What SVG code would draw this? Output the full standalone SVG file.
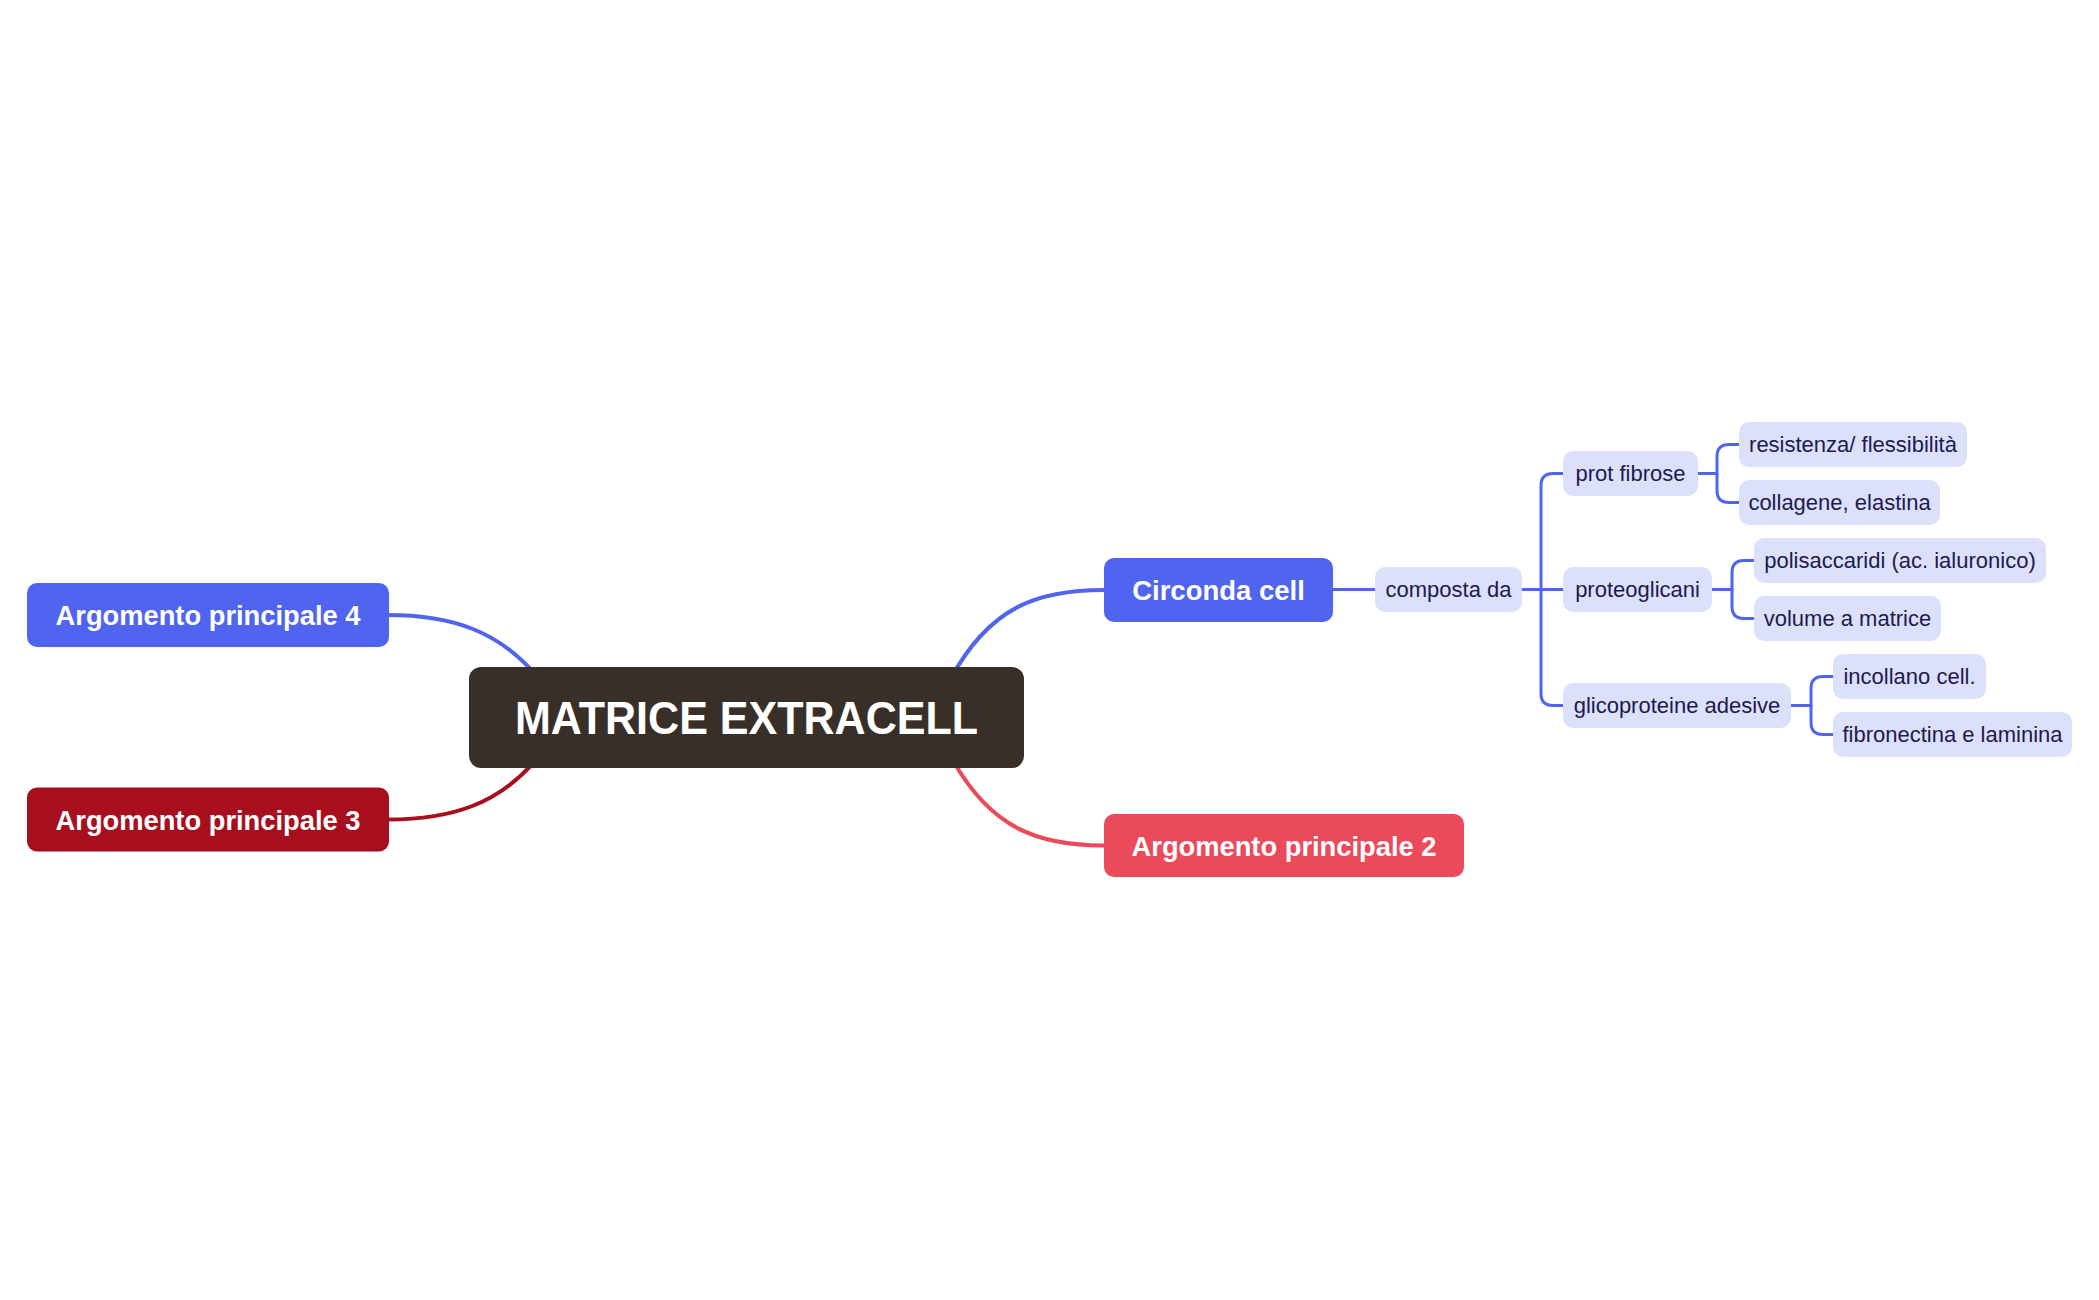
<svg xmlns="http://www.w3.org/2000/svg" width="2099" height="1300" viewBox="0 0 2099 1300">
<style>
.main{font-family:"Liberation Sans",Arial,sans-serif;font-weight:bold;fill:#ffffff;text-anchor:middle}
.sub{font-family:"Liberation Sans",Arial,sans-serif;font-size:22px;fill:#1c1b4f;text-anchor:middle}
.sb{fill:#dde0fa}
.lnb{fill:none;stroke:#5064ef;stroke-width:3;stroke-linecap:round;stroke-linejoin:round}
.big{fill:none;stroke-width:4;stroke-linecap:round}
</style>
<rect width="2099" height="1300" fill="#ffffff"/>
<g id="connectors">
<path class="big" stroke="#5064ef" d="M388,615 C450,615 500,630 540,680"/>
<path class="big" stroke="#a80f1e" d="M388,819.5 C450,819.5 500,805 540,755"/>
<path class="big" stroke="#5064ef" d="M1104,590 C1040,590 990,605 950,680"/>
<path class="big" stroke="#ea4a5a" d="M1104,845.5 C1040,845.5 990,830 950,755"/>
<path class="lnb" d="M1333,589.5 H1375"/>
<path class="lnb" d="M1522,589.5 H1563"/>
<path class="lnb" d="M1563,473.5 H1553 Q1541,473.5 1541,485.5 V693.5 Q1541,705.5 1553,705.5 H1563"/>
<path class="lnb" d="M1698,473.5 H1717"/>
<path class="lnb" d="M1739,444.5 H1729 Q1717,444.5 1717,456.5 V490.5 Q1717,502.5 1729,502.5 H1739"/>
<path class="lnb" d="M1712,589.5 H1732"/>
<path class="lnb" d="M1754,560.5 H1744 Q1732,560.5 1732,572.5 V606.5 Q1732,618.5 1744,618.5 H1754"/>
<path class="lnb" d="M1791,705.5 H1811"/>
<path class="lnb" d="M1833,676.5 H1823 Q1811,676.5 1811,688.5 V722.5 Q1811,734.5 1823,734.5 H1833"/>
</g>
<g id="central">
<rect x="469" y="667" width="555" height="101" rx="12" fill="#383028"/>
<text class="main" x="746.5" y="733.5" font-size="46" textLength="463" lengthAdjust="spacingAndGlyphs">MATRICE EXTRACELL</text>
</g>
<g id="arg4">
<rect x="27" y="583" width="362" height="64" rx="10" fill="#5064ef"/>
<text class="main" x="208" y="625" font-size="27.3">Argomento principale 4</text>
</g>
<g id="arg3">
<rect x="27" y="787.5" width="362" height="64" rx="10" fill="#a80f1e"/>
<text class="main" x="208" y="829.5" font-size="27.3">Argomento principale 3</text>
</g>
<g id="circonda">
<rect x="1104" y="558" width="229" height="64" rx="10" fill="#5064ef"/>
<text class="main" x="1218.5" y="600" font-size="27.5">Circonda cell</text>
</g>
<g id="arg2">
<rect x="1104" y="814" width="360" height="63" rx="10" fill="#ea4a5a"/>
<text class="main" x="1284" y="855.5" font-size="27.3">Argomento principale 2</text>
</g>
<g id="composta">
<rect class="sb" x="1375" y="567" width="147" height="45" rx="10"/>
<text class="sub" x="1448.5" y="597">composta da</text>
</g>
<g id="protfibrose">
<rect class="sb" x="1563" y="451" width="135" height="45" rx="10"/>
<text class="sub" x="1630.5" y="481">prot fibrose</text>
</g>
<g id="proteoglicani">
<rect class="sb" x="1563" y="567" width="149" height="45" rx="10"/>
<text class="sub" x="1637.5" y="597">proteoglicani</text>
</g>
<g id="glicoproteine">
<rect class="sb" x="1563" y="683" width="228" height="45" rx="10"/>
<text class="sub" x="1677" y="713">glicoproteine adesive</text>
</g>
<g id="resistenza">
<rect class="sb" x="1739" y="422" width="228" height="45" rx="10"/>
<text class="sub" x="1853" y="452">resistenza/ flessibilità</text>
</g>
<g id="collagene">
<rect class="sb" x="1739" y="480" width="201" height="45" rx="10"/>
<text class="sub" x="1839.5" y="510">collagene, elastina</text>
</g>
<g id="polisaccaridi">
<rect class="sb" x="1754" y="538" width="292" height="45" rx="10"/>
<text class="sub" x="1900" y="568">polisaccaridi (ac. ialuronico)</text>
</g>
<g id="volume">
<rect class="sb" x="1754" y="596" width="187" height="45" rx="10"/>
<text class="sub" x="1847.5" y="626">volume a matrice</text>
</g>
<g id="incollano">
<rect class="sb" x="1833" y="654" width="153" height="45" rx="10"/>
<text class="sub" x="1909.5" y="684">incollano cell.</text>
</g>
<g id="fibronectina">
<rect class="sb" x="1833" y="712" width="239" height="45" rx="10"/>
<text class="sub" x="1952.5" y="742">fibronectina e laminina</text>
</g>
</svg>
